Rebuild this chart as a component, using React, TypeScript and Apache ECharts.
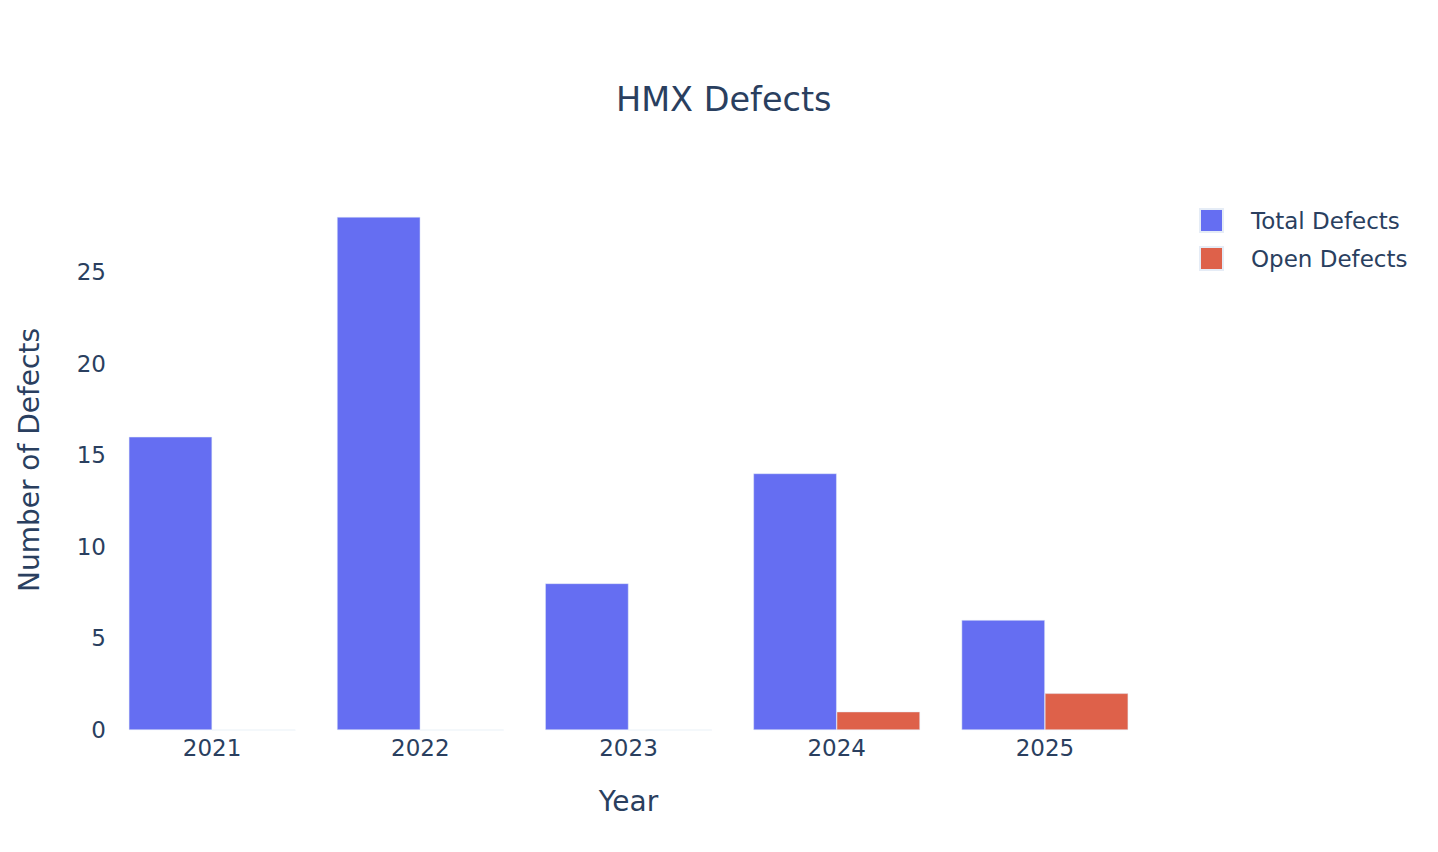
import React, { useEffect, useRef } from "react";
import * as echarts from "echarts";

const years = ["2021", "2022", "2023", "2024", "2025"];
const totalDefects = [16, 28, 8, 14, 6];
const openDefects = [0, 0, 0, 1, 2];

const FONT = "DejaVu Sans";
const TXT = "#2a3f5f";

export default function App() {
  const ref = useRef<HTMLDivElement>(null);
  useEffect(() => {
    document.body.style.margin = "0";
    if (!ref.current) return;
    const chart = echarts.init(ref.current, undefined, { renderer: "svg" });
    chart.setOption({
      animation: false,
      backgroundColor: "#ffffff",
      textStyle: { fontFamily: FONT, color: TXT },
      title: {
        text: "HMX Defects",
        left: 616,
        top: 82,
        padding: 0,
        textStyle: { fontFamily: FONT, color: TXT, fontSize: 33.5, fontWeight: "normal" },
      },
      legend: {
        orient: "vertical",
        left: 1199,
        top: 208,
        padding: 0,
        itemWidth: 23,
        itemHeight: 23,
        itemGap: 13,
        icon: "rect",
        textStyle: { fontFamily: FONT, color: TXT, fontSize: 23, padding: [0, 0, 0, 23] },
        data: ["Total Defects", "Open Defects"],
      },
      grid: {
        left: 108,
        right: 289,
        top: 190,
        bottom: 122,
        containLabel: false,
        outerBoundsMode: "none",
      },
      xAxis: {
        type: "category",
        data: years,
        name: "Year",
        nameLocation: "middle",
        nameGap: 57,
        nameTextStyle: { fontFamily: FONT, color: TXT, fontSize: 28 },
        axisLine: { show: false },
        axisTick: { show: false },
        axisLabel: { fontFamily: FONT, color: TXT, fontSize: 23, margin: 6 },
      },
      yAxis: {
        type: "value",
        min: 0,
        max: 29.47,
        interval: 5,
        name: "Number of Defects",
        nameLocation: "middle",
        nameGap: 65,
        nameTextStyle: { fontFamily: FONT, color: TXT, fontSize: 28 },
        axisLine: { show: false },
        axisTick: { show: false },
        splitLine: { show: false },
        axisLabel: { fontFamily: FONT, color: TXT, fontSize: 23, margin: 2, showMaxLabel: false },
      },
      series: [
        {
          name: "Total Defects",
          type: "bar",
          data: totalDefects,
          barGap: "0%",
          barCategoryGap: "20%",
          itemStyle: { color: "#656ef2", borderColor: "#e5ecf6", borderWidth: 0.5 },
        },
        {
          name: "Open Defects",
          type: "bar",
          data: openDefects,
          barGap: "0%",
          barCategoryGap: "20%",
          itemStyle: { color: "#de614a", borderColor: "#e5ecf6", borderWidth: 0.5 },
        },
      ],
    });
    return () => chart.dispose();
  }, []);
  return <div ref={ref} style={{ width: 1438, height: 852 }} />;
}
